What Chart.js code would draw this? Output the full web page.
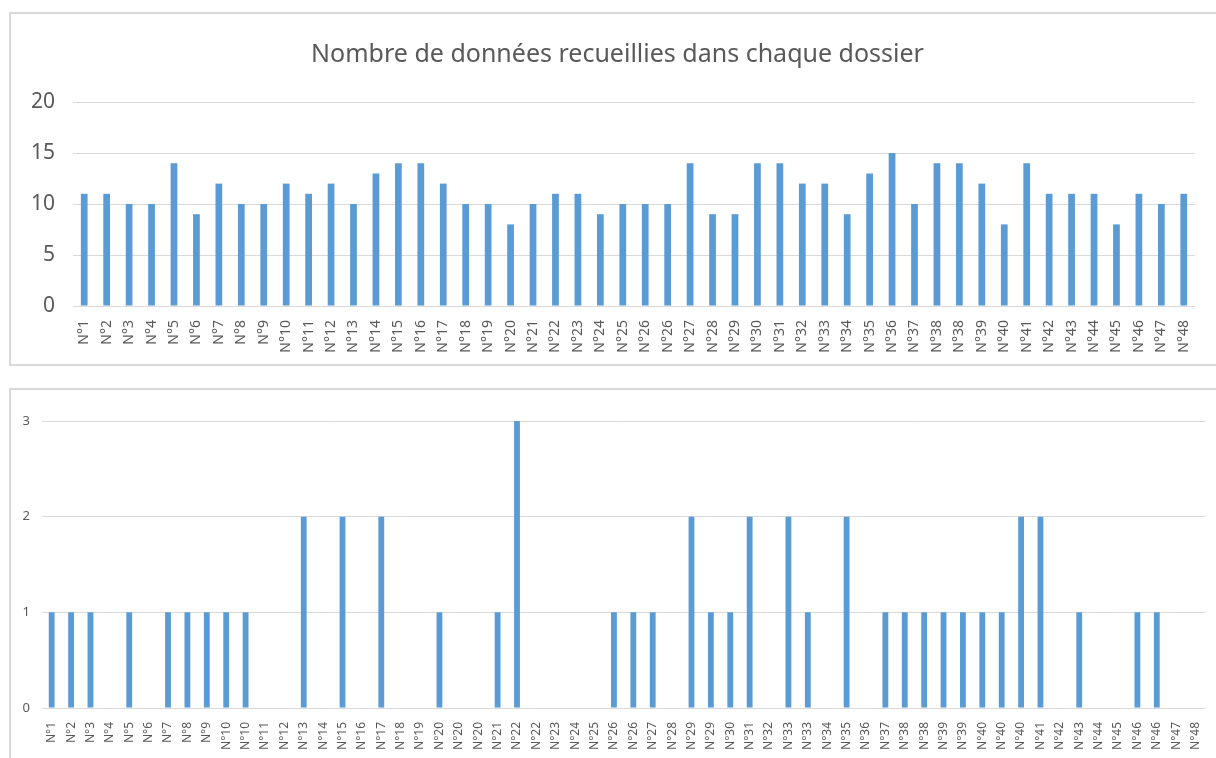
<!DOCTYPE html>
<html>
<head>
<meta charset="utf-8">
<script src="https://cdn.jsdelivr.net/npm/chart.js@4.4.1/dist/chart.umd.min.js"></script>
<style>
  html, body { margin: 0; padding: 0; background: #fff; }
  body { width: 1216px; height: 758px; position: relative; overflow: hidden; }
  .frame { position: absolute; border: 2px solid #d9d9d9; box-sizing: border-box; }
  #frameTop { left: 9px; top: 12px; width: 1240px; height: 354px; }
  #frameBottom { left: 9px; top: 388px; width: 1240px; height: 400px; }
  canvas { position: absolute; }
  #topChart { left: 0; top: 0; }
  #bottomChart { left: 0; top: 380px; }
</style>
</head>
<body>
<div class="frame" id="frameTop"></div>
<div class="frame" id="frameBottom"></div>
<canvas id="topChart" width="1234" height="365"></canvas>
<canvas id="bottomChart" width="1216" height="378"></canvas>
<script>
const TITLE = "Nombre de données recueillies dans chaque dossier";

const topLabels = [
    "N°1", "N°2", "N°3", "N°4", "N°5", "N°6", "N°7", "N°8", "N°9", "N°10",
    "N°11", "N°12", "N°13", "N°14", "N°15", "N°16", "N°17", "N°18", "N°19", "N°20",
    "N°21", "N°22", "N°23", "N°24", "N°25", "N°26", "N°26", "N°27", "N°28", "N°29",
    "N°30", "N°31", "N°32", "N°33", "N°34", "N°35", "N°36", "N°37", "N°38", "N°38",
    "N°39", "N°40", "N°41", "N°42", "N°43", "N°44", "N°45", "N°46", "N°47", "N°48",
];
const topValues = [
    11, 11, 10, 10, 14, 9, 12, 10, 10, 12,
    11, 12, 10, 13, 14, 14, 12, 10, 10, 8,
    10, 11, 11, 9, 10, 10, 10, 14, 9, 9,
    14, 14, 12, 12, 9, 13, 15, 10, 14, 14,
    12, 8, 14, 11, 11, 11, 8, 11, 10, 11,
];

const bottomLabels = [
    "N°1", "N°2", "N°3", "N°4", "N°5", "N°6", "N°7", "N°8", "N°9", "N°10",
    "N°10", "N°11", "N°12", "N°13", "N°14", "N°15", "N°16", "N°17", "N°18", "N°19",
    "N°20", "N°20", "N°20", "N°21", "N°22", "N°22", "N°23", "N°24", "N°25", "N°26",
    "N°26", "N°27", "N°28", "N°29", "N°29", "N°30", "N°31", "N°32", "N°33", "N°33",
    "N°34", "N°35", "N°36", "N°37", "N°38", "N°38", "N°39", "N°39", "N°40", "N°40",
    "N°40", "N°41", "N°42", "N°43", "N°44", "N°45", "N°46", "N°46", "N°47", "N°48",
];
const bottomValues = [
    1, 1, 1, 0, 1, 0, 1, 1, 1, 1,
    1, 0, 0, 2, 0, 2, 0, 2, 0, 0,
    1, 0, 0, 1, 3, 0, 0, 0, 0, 1,
    1, 1, 0, 2, 1, 1, 2, 0, 2, 1,
    0, 2, 0, 1, 1, 1, 1, 1, 1, 1,
    2, 2, 0, 1, 0, 0, 1, 1, 0, 0,
];

const BAR_COLOR = "#5b9bd5";
const GRID_COLOR = "#d9d9d9";
const TEXT_COLOR = "#595959";
const FONT = "'Noto Sans', sans-serif";

// axis sizes are pinned so the plot areas land where the reference has them
const fixWidth = (w) => (scale) => { scale.width = w; };
const fixHeight = (h) => (scale) => { scale.height = h; };

// the title in the reference sits a little right of the plot centre
const nudgeTitle = (dx) => ({
    id: "nudgeTitle",
    afterLayout(chart) {
        const t = chart.titleBlock;
        if (t) {
            t.left += dx;
            t.right += dx;
        }
    },
});

function barChart(id, labels, values, opts) {
    return new Chart(document.getElementById(id), {
        type: "bar",
        data: {
            labels,
            datasets: [{
                data: values,
                backgroundColor: BAR_COLOR,
                barPercentage: 0.3,
                categoryPercentage: 1,
            }],
        },
        options: {
            responsive: false,
            animation: false,
            layout: { padding: opts.padding },
            plugins: {
                legend: { display: false },
                tooltip: { enabled: false },
                title: opts.title || { display: false },
            },
            scales: {
                x: {
                    grid: { display: false },
                    border: { display: false },
                    ticks: {
                        autoSkip: false,
                        minRotation: 90,
                        maxRotation: 90,
                        padding: opts.xPad,
                        color: TEXT_COLOR,
                        font: { family: FONT, size: opts.xFont },
                    },
                    afterFit: fixHeight(opts.xHeight),
                },
                y: {
                    min: 0,
                    max: opts.yMax,
                    ticks: {
                        stepSize: opts.yStep,
                        padding: opts.yPad,
                        color: TEXT_COLOR,
                        font: { family: FONT, size: opts.yFont },
                    },
                    grid: { color: GRID_COLOR, lineWidth: 1, drawTicks: false },
                    border: { display: false },
                    afterFit: fixWidth(opts.yWidth),
                },
            },
        },
        plugins: opts.title ? [nudgeTitle(20)] : [],
    });
}

barChart("topChart", topLabels, topValues, {
    padding: { left: 0, right: 39, top: 0, bottom: 0 },
    title: {
        display: true,
        text: TITLE,
        color: TEXT_COLOR,
        font: { family: FONT, size: 25, weight: "normal", lineHeight: 1.2 },
        padding: { top: 40, bottom: 32 },
    },
    xPad: 6, xFont: 14, xHeight: 59,
    yMax: 20, yStep: 5, yPad: 18, yFont: 21, yWidth: 73,
});

barChart("bottomChart", bottomLabels, bottomValues, {
    padding: { left: 0, right: 4, top: 41, bottom: 0 },
    xPad: 6, xFont: 12, xHeight: 50,
    yMax: 3, yStep: 1, yPad: 12, yFont: 13, yWidth: 42,
});
</script>
</body>
</html>
